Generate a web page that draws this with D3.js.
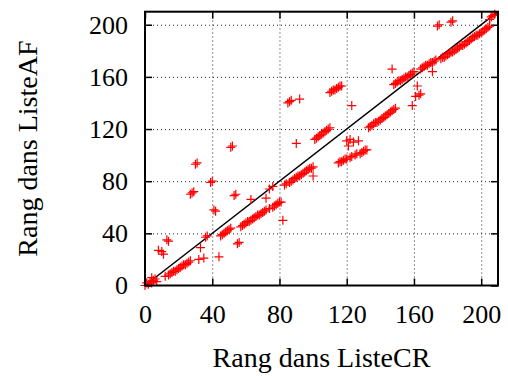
<!DOCTYPE html>
<html><head><meta charset="utf-8">
<script src="https://cdn.jsdelivr.net/npm/d3@7"></script>
<style>body{margin:0;background:#fff}</style>
</head><body>
<script>
// Rank of each item in ListeCR (x) and ListeAF (y)
const rangCR = [0,1,2,3,4,5,6,4,7,
 8,10,11,13,14,
 12,14,15,16,17,18,19,20,21,22,23,24,25,26,27,
 32,35,33,36,37,44,
 45,46,47,48,49,50,51,55,56,41,42,27,28,29,30,31,39,40,51,52,53,54,
 57,58,59,60,61,62,63,64,65,66,67,68,69,70,71,72,74,76,77,78,79,80,81,
 63,72,74,76,82,
 83,84,86,87,88,89,90,91,92,93,94,95,96,97,98,99,100,100,
 85,86,87,92,90,
 101,102,103,104,105,106,107,108,109,110,
 110,111,112,113,114,115,116,117,123,
 120,122,124,127,121,
 115,116,117,118,119,120,122,123,125,126,128,129,130,131,132,
 133,134,135,136,137,138,139,140,141,142,143,144,145,146,147,148,149,
 147,
 148,149,150,151,152,153,154,155,156,157,158,159,160,
 159,162,161,163,164,171,
 164,165,166,167,168,169,170,171,172,173,
 174,175,182,183,
 176,177,178,179,180,181,182,183,184,185,186,187,188,189,190,191,192,193,194,195,196,197,198,199,200,201,202,203,204,205,
 205,206,207,208];
const rangAF = [0,2,1,3,2,4,5,6,3,
 27,26,24,35,34,
 7,8,9,10,11,11,12,13,14,15,16,16,17,18,19,
 20,21,29,37,38,22,
 38,39,40,41,42,43,44,32,33,58,57,70,71,72,93,94,79,80,106,107,69,70,
 45,46,47,48,49,49,50,51,52,53,54,54,55,56,57,58,59,60,61,62,63,64,64,
 66,67,74,76,50,
 77,78,79,80,81,82,83,84,84,85,86,87,88,89,90,90,91,84,
 140,141,142,143,109,
 112,113,114,115,116,117,118,119,120,121,
 148,149,150,150,151,152,153,153,138,
 111,112,110,111,107,
 94,95,95,96,97,97,98,99,100,101,101,102,103,104,104,
 121,122,123,124,125,125,126,127,128,129,130,131,132,133,134,135,136,
 166,
 154,155,156,157,157,158,159,160,160,161,162,163,164,
 138,153,145,146,147,164,
 166,167,168,169,169,170,171,171,172,173,
 199,200,202,203,
 174,175,175,176,177,178,179,179,180,181,182,183,184,184,185,186,187,188,189,190,191,192,192,193,194,195,196,197,198,199,
 204,206,207,208];
const tickValues = [0,40,80,120,160,200];
const xLabel = "Rang dans ListeCR";
const yLabel = "Rang dans ListeAF";

const W = 508, H = 376;
const L = 145, R = 498, T = 11.7, B = 285.5;
const font = "'Liberation Serif','DejaVu Serif',serif";

const svg = d3.select("body").append("svg").attr("width", W).attr("height", H)
  .style("background", "#fff");

const x = d3.scaleLinear().domain([0, 210]).range([L, R]);
const y = d3.scaleLinear().domain([0, 210]).range([B, T]);

// grid
const gridVals = tickValues.filter(v => v > 0);
svg.append("g").attr("transform", `translate(0,${B})`)
  .call(d3.axisBottom(x).tickValues(gridVals).tickSize(-(B - T)).tickFormat(""))
  .call(g => g.select(".domain").remove())
  .selectAll("line").attr("stroke", "#222").attr("stroke-width", 1).attr("stroke-dasharray", "1,3");
svg.append("g").attr("transform", `translate(${L},0)`)
  .call(d3.axisLeft(y).tickValues(gridVals).tickSize(-(R - L)).tickFormat(""))
  .call(g => g.select(".domain").remove())
  .selectAll("line").attr("stroke", "#222").attr("stroke-width", 1).attr("stroke-dasharray", "1,3");

// axes with inward ticks
function styleAxis(g) {
  g.select(".domain").remove();
  g.selectAll("line").attr("stroke", "#000").attr("stroke-width", 1.5);
  g.selectAll("text").attr("font-family", font).attr("font-size", 26).attr("fill", "#000");
}
svg.append("g").attr("transform", `translate(0,${B})`)
  .call(d3.axisBottom(x).tickValues(tickValues).tickSizeInner(-7).tickSizeOuter(0).tickPadding(19))
  .call(styleAxis);
svg.append("g").attr("transform", `translate(0,${T})`)
  .call(d3.axisTop(x).tickValues(tickValues).tickSizeInner(-7).tickSizeOuter(0).tickFormat(""))
  .call(styleAxis);
svg.append("g").attr("transform", `translate(${L},0)`)
  .call(d3.axisLeft(y).tickValues(tickValues).tickSizeInner(-7).tickSizeOuter(0).tickPadding(17))
  .call(styleAxis);
svg.append("g").attr("transform", `translate(${R},0)`)
  .call(d3.axisRight(y).tickValues(tickValues).tickSizeInner(-7).tickSizeOuter(0).tickFormat(""))
  .call(styleAxis);

// diagonal y = x
svg.append("line")
  .attr("x1", x(0)).attr("y1", y(0)).attr("x2", x(210)).attr("y2", y(210))
  .attr("stroke", "#000").attr("stroke-width", 1.5);

// points
const pts = rangCR.map((v, i) => [v, rangAF[i]]);
svg.append("g").selectAll("path").data(pts).join("path")
  .attr("transform", d => `translate(${x(d[0])},${y(d[1])})`)
  .attr("d", "M-4.5,0H4.5M0,-4.5V4.5")
  .attr("stroke", "#ff0000").attr("stroke-width", 1.2).attr("fill", "none");

// border
svg.append("rect").attr("x", L).attr("y", T).attr("width", R - L).attr("height", B - T)
  .attr("fill", "none").attr("stroke", "#000").attr("stroke-width", 2);

// labels
svg.append("text").attr("x", (L + R) / 2).attr("y", 367).attr("text-anchor", "middle")
  .attr("font-family", font).attr("font-size", 28).text(xLabel);
svg.append("text").attr("transform", `translate(37,${(T + B) / 2}) rotate(-90)`)
  .attr("text-anchor", "middle").attr("font-family", font).attr("font-size", 28).text(yLabel);
</script>
</body></html>
